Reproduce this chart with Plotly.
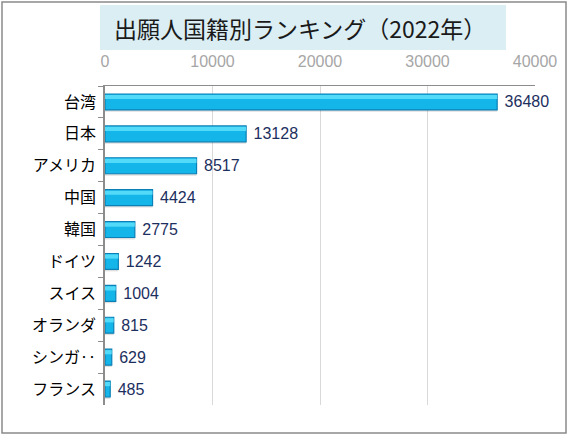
import plotly.graph_objects as go

categories = ["台湾", "日本", "アメリカ", "中国", "韓国", "ドイツ", "スイス", "オランダ", "シンガ‥", "フランス"]
values = [36480, 13128, 8517, 4424, 2775, 1242, 1004, 815, 629, 485]
x_ticks = [0, 10000, 20000, 30000, 40000]
title_text = "出願人国籍別ランキング（2022年）"

W, H = 569, 436
L, R, T, B = 105, 34, 86, 31
pw, ph = W - L - R, H - T - B

def px(x):
    return (x - L) / pw

def py(y):
    return 1 - (y - T) / ph

fig = go.Figure()
# soft shadow under each bar
fig.add_trace(go.Bar(
    x=values, y=categories, orientation="h",
    marker=dict(color="rgba(0,0,0,0.13)", line=dict(width=0)),
    width=0.5, offset=-0.19,
    hoverinfo="skip",
))
# main bar
fig.add_trace(go.Bar(
    x=values, y=categories, orientation="h",
    marker=dict(color="#14b6ea", line=dict(color="#0b80b6", width=1.2)),
    width=0.5, offset=-0.25,
    text=[str(v) for v in values],
    texttemplate=" %{text}",
    textposition="outside",
    constraintext="none",
    textfont=dict(family="Liberation Sans, Arial", size=16, color="#1c2f5e"),
    cliponaxis=False,
    hoverinfo="skip",
))
# glossy highlight on the upper part
fig.add_trace(go.Bar(
    x=values, y=categories, orientation="h",
    marker=dict(color="rgba(90,222,250,0.9)", line=dict(width=0)),
    width=0.13, offset=-0.22,
    hoverinfo="skip",
))

fig.update_layout(
    width=W, height=H,
    margin=dict(l=L, r=R, t=T, b=B),
    paper_bgcolor="white", plot_bgcolor="white",
    showlegend=False,
    barmode="overlay",
    xaxis=dict(
        side="top", range=[0, 40000], tickvals=x_ticks,
        ticktext=[str(v) for v in x_ticks],
        tickfont=dict(family="Liberation Sans, Arial", size=16, color="#a6a6a6"),
        showgrid=True, gridcolor="#d9d9d9", gridwidth=1,
        showline=True, linecolor="#8c8c8c", linewidth=1,
        ticks="", ticklabelstandoff=12, zeroline=False,
    ),
    yaxis=dict(
        autorange="reversed",
        tickfont=dict(family="Noto Sans CJK JP", size=16, color="black"),
        showline=True, linecolor="#8c8c8c", linewidth=1.5,
        ticks="outside", tickson="boundaries", ticklen=5, tickcolor="#8c8c8c",
        ticklabelstandoff=4, showgrid=False,
    ),
    shapes=[
        dict(type="rect", xref="paper", yref="paper",
             x0=px(2), x1=px(566), y0=py(433), y1=py(2),
             line=dict(color="#8a8a8a", width=1.5), fillcolor="rgba(0,0,0,0)", layer="below"),
        dict(type="rect", xref="paper", yref="paper",
             x0=px(100), x1=px(506), y0=py(50), y1=py(5),
             line=dict(width=0), fillcolor="#dbeef4", layer="below"),
    ],
    annotations=[
        dict(text=title_text, xref="paper", yref="paper", x=px(300), y=py(28),
             xanchor="center", yanchor="middle", showarrow=False,
             font=dict(family="Noto Sans CJK JP", size=23, color="#1a1a1a")),
    ],
)

fig.write_html("out.html", config={"displayModeBar": False},
               post_script="document.body.style.margin='0';")
